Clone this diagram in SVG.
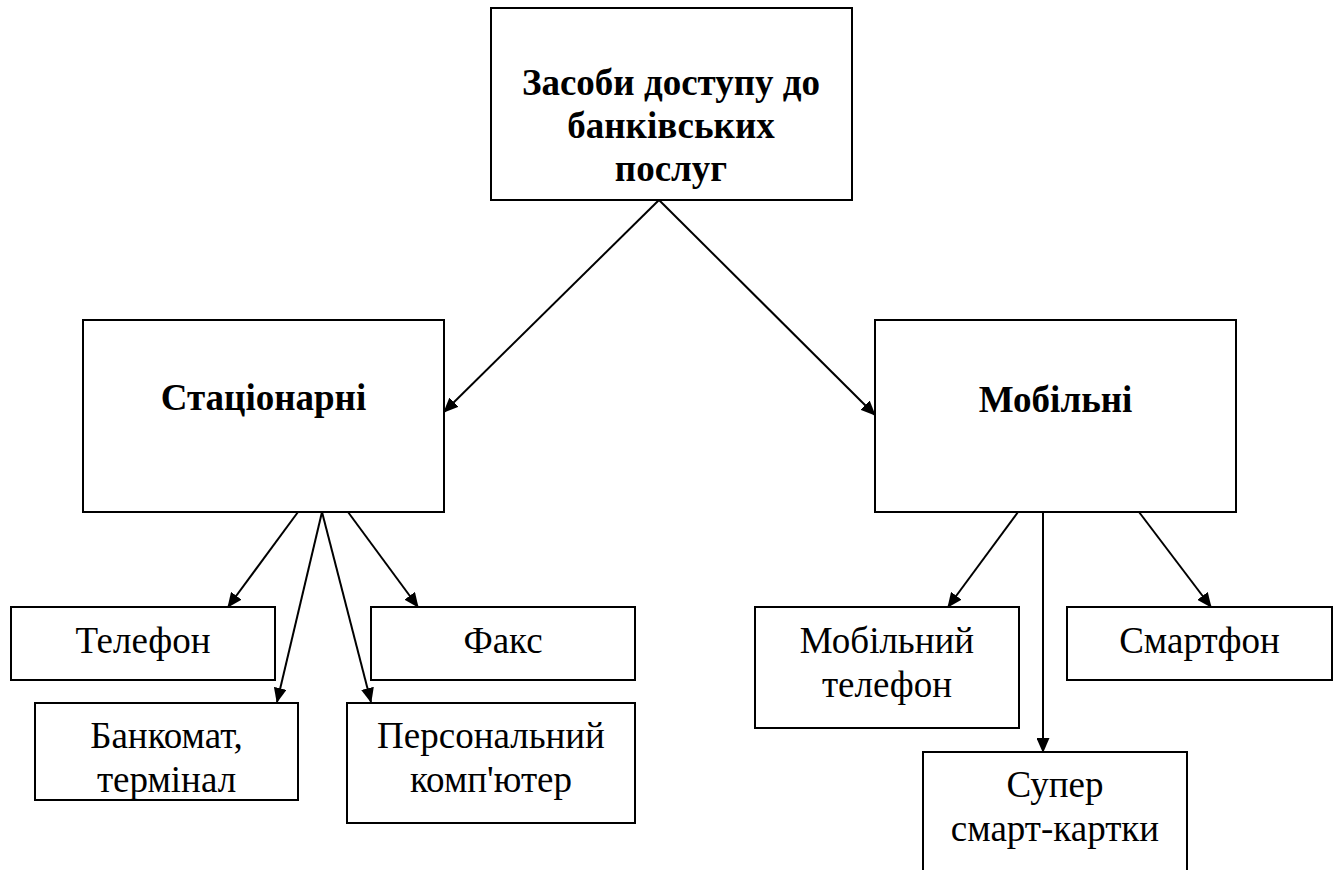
<svg xmlns="http://www.w3.org/2000/svg" width="1338" height="870" viewBox="0 0 1338 870">
<defs>
<style>
.box{fill:#fff;stroke:#000;stroke-width:2}
.t{font-family:"Liberation Serif","Times New Roman",serif;font-size:37px;fill:#000;text-anchor:middle}
.b{font-weight:bold}
.c{stroke:#000;stroke-width:2;fill:none;marker-end:url(#ah)}
</style>
<marker id="ah" viewBox="0 0 15 13" refX="14" refY="6.5" markerWidth="15" markerHeight="13" markerUnits="userSpaceOnUse" orient="auto">
<path d="M0,0 L15,6.5 L0,13 z" fill="#000"/>
</marker>
</defs>
<rect width="1338" height="870" fill="#fff"/>
<g id="connectors">
<line class="c" x1="659" y1="200" x2="444" y2="412"/>
<line class="c" x1="659" y1="200" x2="875" y2="415"/>
<line class="c" x1="298" y1="512" x2="228" y2="607"/>
<line class="c" x1="322" y1="512" x2="277" y2="702"/>
<line class="c" x1="322" y1="512" x2="371" y2="702"/>
<line class="c" x1="348" y1="512" x2="418" y2="607"/>
<line class="c" x1="1018" y1="512" x2="948" y2="607"/>
<line class="c" x1="1043" y1="512" x2="1043" y2="752"/>
<line class="c" x1="1139" y1="512" x2="1211" y2="607"/>
</g>
<g id="root">
<rect class="box" x="491" y="8" width="361" height="192"/>
<text class="t b" x="671" y="95">Засоби доступу до</text>
<text class="t b" x="671" y="138">банківських</text>
<text class="t b" x="671" y="181">послуг</text>
</g>
<g id="stationary">
<rect class="box" x="83" y="320" width="361" height="192"/>
<text class="t b" x="263.5" y="410">Стаціонарні</text>
</g>
<g id="mobile">
<rect class="box" x="875" y="320" width="361" height="192"/>
<text class="t b" x="1055.5" y="412">Мобільні</text>
</g>
<g id="telephone">
<rect class="box" x="11" y="607" width="264" height="73"/>
<text class="t" x="143" y="653">Телефон</text>
</g>
<g id="fax">
<rect class="box" x="371" y="607" width="264" height="73"/>
<text class="t" x="503" y="653">Факс</text>
</g>
<g id="atm">
<rect class="box" x="35" y="703" width="263" height="97"/>
<text class="t" x="166.5" y="748">Банкомат,</text>
<text class="t" x="166.5" y="792">термінал</text>
</g>
<g id="pc">
<rect class="box" x="347" y="703" width="288" height="120"/>
<text class="t" x="491" y="748">Персональний</text>
<text class="t" x="491" y="792">комп'ютер</text>
</g>
<g id="mobilephone">
<rect class="box" x="755" y="607" width="264" height="121"/>
<text class="t" x="887" y="653">Мобільний</text>
<text class="t" x="887" y="697">телефон</text>
</g>
<g id="smartphone">
<rect class="box" x="1067" y="607" width="265" height="73"/>
<text class="t" x="1199.5" y="653">Смартфон</text>
</g>
<g id="supercards">
<rect class="box" x="923" y="752" width="264" height="130"/>
<text class="t" x="1055" y="797">Супер</text>
<text class="t" x="1055" y="841">смарт-картки</text>
</g>
</svg>
